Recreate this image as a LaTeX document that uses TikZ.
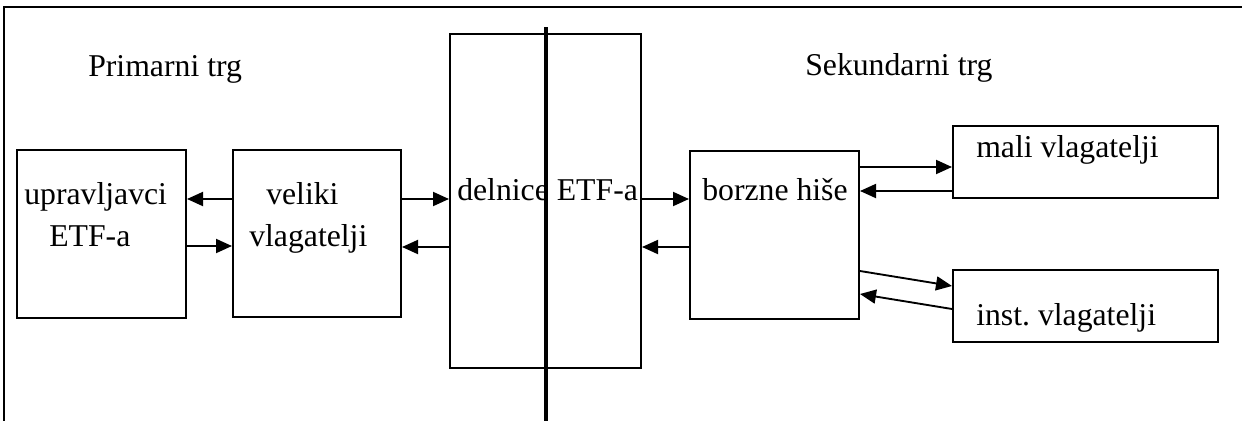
\documentclass[tikz,border=0pt]{standalone}
\usepackage{fontspec}
\setmainfont{Liberation Serif}
\usetikzlibrary{arrows.meta,fit}
\frenchspacing
\begin{document}
\begin{tikzpicture}[x=0.75pt,y=-0.75pt,
  box/.style={draw,line width=1.5pt,inner sep=0pt,fill=none},
  lbl/.style={inner sep=0pt,anchor=base west,font=\fontsize{23.8}{32}\selectfont},
  arr/.style={line width=1.4pt,-{Triangle[length=12pt,width=10.5pt]}}]
\useasboundingbox (0,0) rectangle (1242,421);
% frame
\draw[line width=2.2pt] (4,421) -- (4,7) -- (1242,7);
% boxes
\node[box,fit={(17,150) (186,318)}] (A) {};
\node[box,fit={(233,150) (401,317)}] (B) {};
\node[box,fit={(450,34) (641,368)}] (C) {};
\node[box,fit={(690,151) (859,319)}] (D) {};
\node[box,fit={(953,126) (1218,198)}] (E) {};
\node[box,fit={(953,270) (1218,342)}] (F) {};
% labels
\node[lbl] (prim) at (88,76) {Primarni trg};
\node[lbl] (sek) at (805,75) {Sekundarni trg};
\node[lbl] (a1) at (24,204) {upravljavci};
\node[lbl] (a2) at (49,246) {ETF-a};
\node[lbl] (b1) at (266,204) {veliki};
\node[lbl] (b2) at (249,246) {vlagatelji};
\node[lbl] (c1) at (457,200) {delnice ETF-a};
\node[lbl] (d1) at (702,200) {borzne hiše};
\node[lbl] (e1) at (976,157) {mali vlagatelji};
\node[lbl] (f1) at (976,325) {inst. vlagatelji};
% divider line
\coordinate (vt) at (546,27);
\coordinate (vb) at (546,421);
\draw[line width=3pt] (vt) -- (vb);
% arrows
\draw[arr] (B.west |- 0,199) -- (A.east |- 0,199);
\draw[arr] (A.east |- 0,246) -- (B.west |- 0,246);
\draw[arr] (B.east |- 0,199) -- (C.west |- 0,199);
\draw[arr] (C.west |- 0,247) -- (B.east |- 0,247);
\draw[arr] (C.east |- 0,199) -- (D.west |- 0,199);
\draw[arr] (D.west |- 0,247) -- (C.east |- 0,247);
\draw[arr] (D.east |- 0,167) -- (E.west |- 0,167);
\draw[arr] (E.west |- 0,191) -- (D.east |- 0,191);
\draw[arr] (D.east |- 0,271) -- (F.west |- 0,286);
\draw[arr] (F.west |- 0,309) -- (D.east |- 0,294);
\end{tikzpicture}
\end{document}
